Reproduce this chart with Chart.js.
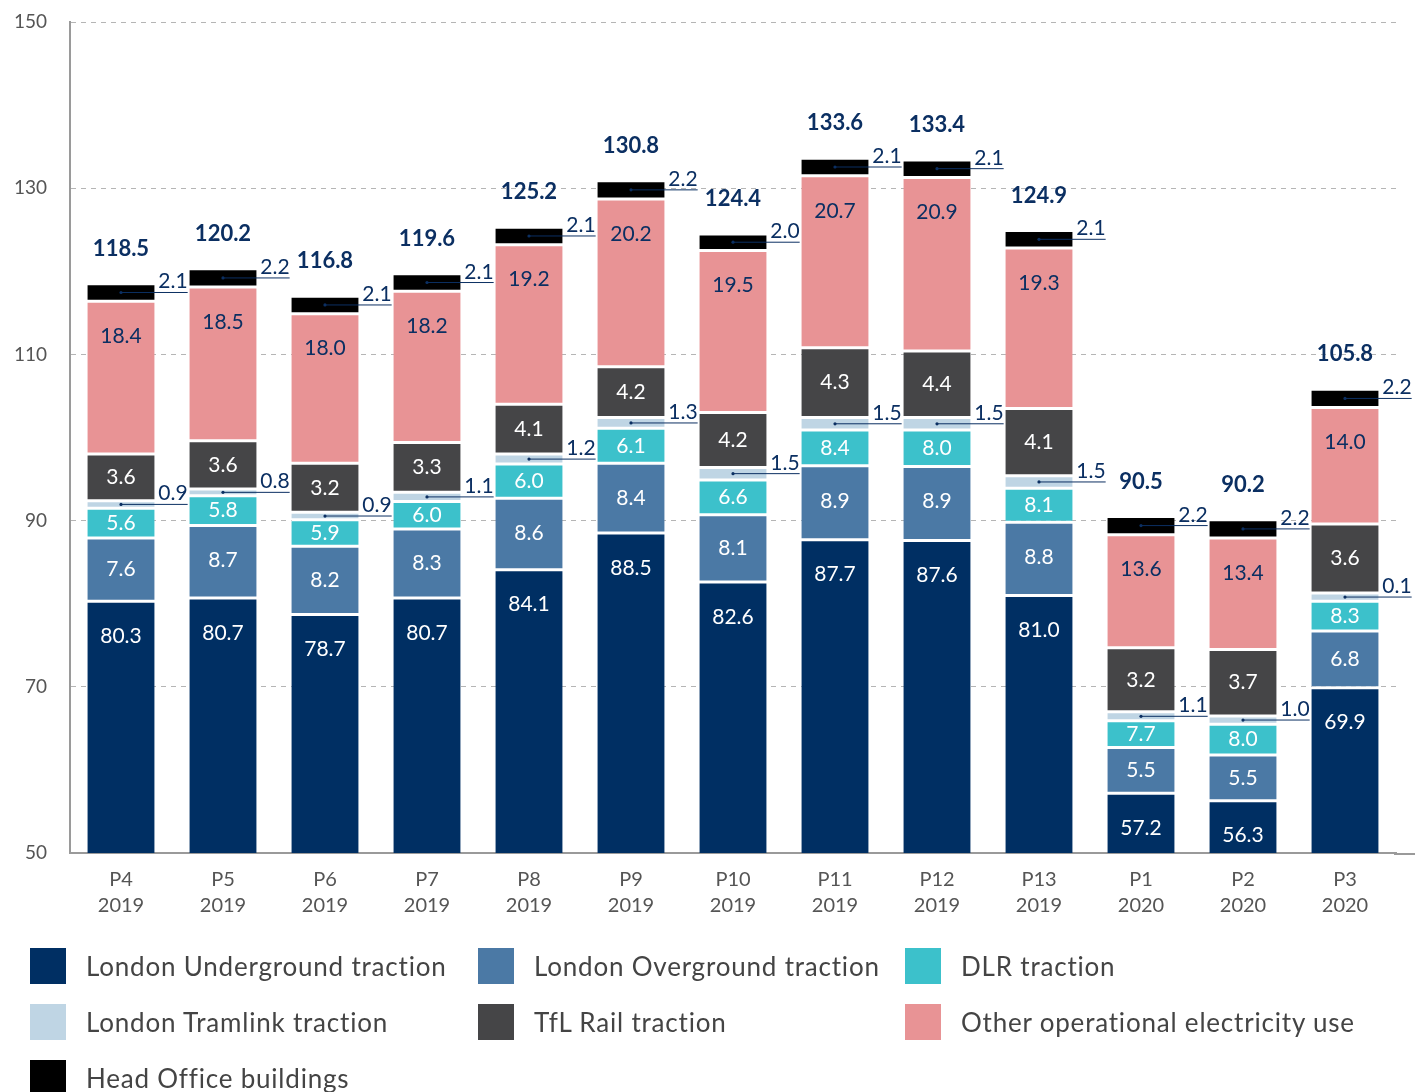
<!DOCTYPE html>
<html>
<head>
<meta charset="utf-8">
<script src="https://cdn.jsdelivr.net/npm/chart.js@4.4.1/dist/chart.umd.min.js"></script>
<style>
    body { margin: 0; background: #fff; font-family: Lato, "Noto Sans", sans-serif; }
    #wrap { position: relative; width: 1415px; height: 1092px; overflow: hidden; }
    #chart { position: absolute; left: 0; top: 0; }
    #legend { position: absolute; left: 0; top: 0; width: 1415px; height: 1092px; }
    .item { position: absolute; display: flex; align-items: center; height: 36px; }
    .box { width: 36px; height: 36px; margin-right: 20px; }
    .txt { font-size: 26px; color: #444; white-space: nowrap; letter-spacing: 0.8px; }
</style>
</head>
<body>
<div id="wrap">
    <canvas id="chart" width="1415" height="935"></canvas>
    <div id="legend"></div>
</div>
<script>
// Дані
const periods = [["P4","2019"],["P5","2019"],["P6","2019"],["P7","2019"],["P8","2019"],["P9","2019"],["P10","2019"],
                 ["P11","2019"],["P12","2019"],["P13","2019"],["P1","2020"],["P2","2020"],["P3","2020"]];

const underground = [80.3, 80.7, 78.7, 80.7, 84.1, 88.5, 82.6, 87.7, 87.6, 81.0, 57.2, 56.3, 69.9];
const overground  = [7.6, 8.7, 8.2, 8.3, 8.6, 8.4, 8.1, 8.9, 8.9, 8.8, 5.5, 5.5, 6.8];
const dlr         = [5.6, 5.8, 5.9, 6.0, 6.0, 6.1, 6.6, 8.4, 8.0, 8.1, 7.7, 8.0, 8.3];
const tramlink    = [0.9, 0.8, 0.9, 1.1, 1.2, 1.3, 1.5, 1.5, 1.5, 1.5, 1.1, 1.0, 1.0];
const tflRail     = [3.6, 3.6, 3.2, 3.3, 4.1, 4.2, 4.2, 4.3, 4.4, 4.1, 3.2, 3.7, 3.6];
const otherUse    = [18.4, 18.5, 18.0, 18.2, 19.2, 20.2, 19.5, 20.7, 20.9, 19.3, 13.6, 13.4, 14.0];
const headOffice  = [2.1, 2.2, 2.1, 2.1, 2.1, 2.2, 2.0, 2.1, 2.1, 2.1, 2.2, 2.2, 2.2];
const totals      = [118.5, 120.2, 116.8, 119.6, 125.2, 130.8, 124.4, 133.6, 133.4, 124.9, 90.5, 90.2, 105.8];

// у джерелі P3 2020 для Tramlink надруковано "0.1", хоча сегмент намальовано як ~1.0
const printedOverride = { "3-12": "0.1" };

const yTicks = [50, 70, 90, 110, 130, 150];

const NAVY = "#0b2f62";
const AXIS = "#9a9a9a";

// У джерелі висота блакитного (DLR) та сірого (TfL Rail) сегментів переставлені
// відносно надрукованих чисел — відтворюємо так, як намальовано.
const series = [
    { name: "London Underground traction", data: underground, printed: underground, color: "#002f63", text: "#fff" },
    { name: "London Overground traction", data: overground, printed: overground, color: "#4b79a5", text: "#fff" },
    { name: "DLR traction", data: tflRail, printed: dlr, color: "#3cc1cb", text: "#fff" },
    { name: "London Tramlink traction", data: tramlink, printed: tramlink, color: "#bfd5e4", text: NAVY, leader: true },
    { name: "TfL Rail traction", data: dlr, printed: tflRail, color: "#454547", text: "#fff" },
    { name: "Other operational electricity use", data: otherUse, printed: otherUse, color: "#e89395", text: NAVY },
    { name: "Head Office buildings", data: headOffice, printed: headOffice, color: "#000000", text: NAVY, leader: true }
];


// === ПІДПИСИ ===
const valueLabels = {
    id: "valueLabels",
    afterDatasetsDraw(chart) {
        const ctx = chart.ctx;
        ctx.save();
        series.forEach((s, i) => {
            const meta = chart.getDatasetMeta(i);
            meta.data.forEach((bar, j) => {
                const txt = printedOverride[i + "-" + j] || s.printed[j].toFixed(1);
                const top = bar.y, bottom = bar.base;
                const cy = (top + bottom) / 2;
                if (s.leader) {
                    const x1 = bar.x + bar.width / 2 + 33;
                    ctx.strokeStyle = NAVY;
                    ctx.fillStyle = NAVY;
                    ctx.lineWidth = 1;
                    ctx.beginPath();
                    ctx.moveTo(bar.x, cy);
                    ctx.lineTo(x1, cy);
                    ctx.stroke();
                    ctx.beginPath();
                    ctx.arc(bar.x, cy, 1.6, 0, Math.PI * 2);
                    ctx.fill();
                    ctx.font = "21px Lato";
                    ctx.textAlign = "right";
                    ctx.textBaseline = "alphabetic";
                    ctx.fillText(txt, x1, cy - 4);
                } else {
                    ctx.fillStyle = s.text;
                    ctx.font = "21px Lato";
                    ctx.textAlign = "center";
                    ctx.textBaseline = "middle";
                    ctx.fillText(txt, bar.x, Math.min(cy, top + 35));
                }
            });
        });

        // підсумки над стовпцями
        const last = chart.getDatasetMeta(series.length - 1);
        ctx.fillStyle = NAVY;
        ctx.font = "bold 22px Lato";
        ctx.textAlign = "center";
        ctx.textBaseline = "middle";
        last.data.forEach((bar, j) => {
            ctx.fillText(totals[j].toFixed(1), bar.x, bar.y - 35);
        });

        // вісь X тягнеться до правого краю
        const area = chart.chartArea;
        const yLine = Math.round(chart.scales.x.top) + 1;
        ctx.strokeStyle = AXIS;
        ctx.lineWidth = 2;
        ctx.beginPath();
        ctx.moveTo(area.right - 2, yLine);
        ctx.lineTo(chart.width, yLine);
        ctx.stroke();
        ctx.restore();
    }
};


// === ГРАФІК ===
new Chart(document.getElementById("chart"), {
    type: "bar",
    data: {
        labels: periods,
        datasets: series.map(s => ({
            label: s.name,
            data: s.data,
            backgroundColor: s.color,
            borderColor: "#ffffff",
            borderWidth: { top: 1.5, bottom: 1.5, left: 0, right: 0 },
            borderSkipped: false,
            barPercentage: 0.66,
            categoryPercentage: 1
        }))
    },
    options: {
        responsive: false,
        animation: false,
        devicePixelRatio: 1,
        layout: { padding: { top: 22, right: 19, left: 0, bottom: 0 } },
        plugins: {
            legend: { display: false },
            tooltip: { enabled: false }
        },
        scales: {
            x: {
                stacked: true,
                grid: { display: false, drawTicks: false },
                border: { display: true, color: AXIS, width: 2 },
                ticks: { color: "#555", font: { family: "Lato", size: 20, lineHeight: 1.3 }, padding: 14, maxRotation: 0 },
                afterFit(scale) { scale.height = 82; }
            },
            y: {
                stacked: true,
                min: 50,
                max: 150,
                afterBuildTicks(scale) { scale.ticks = yTicks.map(v => ({ value: v })); },
                grid: { color: "#b5b5b5", lineWidth: 1, drawTicks: false },
                border: { display: true, color: AXIS, width: 2, dash: [5, 5] },
                ticks: { color: "#555", font: { family: "Lato", size: 19 }, padding: 23 },
                afterFit(scale) {
                    scale.width = 70;
                    scale.paddingTop = 12;
                    scale.paddingBottom = 0;
                }
            }
        }
    },
    plugins: [valueLabels]
});


// === ЛЕГЕНДА ===
const legendCols = [30, 478, 905];
const legendRows = [948, 1004, 1060];
const legend = document.getElementById("legend");
series.forEach((s, i) => {
    const el = document.createElement("div");
    el.className = "item";
    el.style.left = legendCols[i % 3] + "px";
    el.style.top = legendRows[Math.floor(i / 3)] + "px";
    el.innerHTML = `<div class="box" style="background:${s.color}"></div><div class="txt">${s.name}</div>`;
    legend.appendChild(el);
});
</script>
</body>
</html>
